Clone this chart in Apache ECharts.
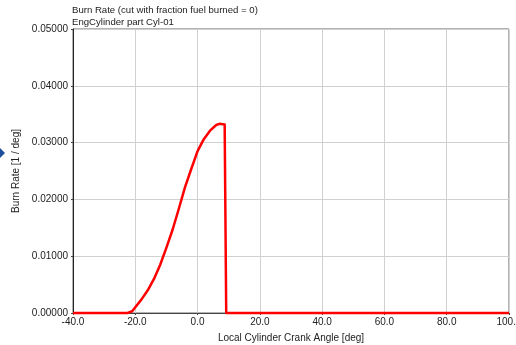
<!DOCTYPE html>
<html>
<head>
<meta charset="utf-8">
<script src="https://cdn.jsdelivr.net/npm/echarts@6/dist/echarts.min.js"></script>
<style>
  html, body { margin: 0; padding: 0; background: #fff; }
  #chart { width: 516px; height: 345px; }
</style>
</head>
<body>
<div id="chart"></div>
<script>
// Burn rate vs local crank angle for cylinder Cyl-01
const crankAngle = [-40, -22.5, -21, -20, -18, -16, -14, -12, -10, -8, -6, -4, -2, 0, 2, 4, 6, 7, 8.7, 9.2, 100];
const burnRate = [0, 0, 0.0003, 0.0010, 0.0024, 0.0040, 0.0060, 0.0085, 0.0115, 0.0147, 0.0184, 0.0222, 0.0254, 0.0285, 0.0306, 0.0321, 0.0331, 0.0333, 0.0332, 0, 0];

const titleLines = ['Burn Rate (cut with fraction fuel burned = 0)', 'EngCylinder part Cyl-01'];
const xAxisName = 'Local Cylinder Crank Angle [deg]';
const yAxisName = 'Burn Rate [1 / deg]';

const FONT = '"Liberation Sans", Arial, sans-serif';
const chart = echarts.init(document.getElementById('chart'), null, { renderer: 'canvas' });

chart.setOption({
  animation: false,
  backgroundColor: '#ffffff',
  title: {
    text: titleLines.join('\n'),
    left: 67,
    top: -1,
    textStyle: { fontFamily: FONT, fontSize: 9.6, fontWeight: 'normal', color: '#222', lineHeight: 12 }
  },
  grid: {
    left: 73, right: 7, top: 29, bottom: 32,
    outerBoundsMode: 'none',
    containLabel: false,
    show: true, borderColor: '#666', borderWidth: 1, backgroundColor: '#fff'
  },
  xAxis: {
    type: 'value',
    min: -40, max: 100, interval: 20,
    name: xAxisName,
    nameLocation: 'middle',
    nameGap: 20,
    nameTextStyle: { fontFamily: FONT, fontSize: 10, color: '#222' },
    axisLine: { show: true, onZero: false, lineStyle: { color: '#444', width: 1 } },
    axisTick: { show: true, length: 2, lineStyle: { color: '#444' } },
    axisLabel: {
      fontFamily: FONT, fontSize: 10, color: '#222', margin: 4,
      formatter: v => v.toFixed(1)
    },
    splitLine: { show: true, lineStyle: { color: '#d0d0d0', width: 1 } }
  },
  yAxis: {
    type: 'value',
    min: 0, max: 0.05, interval: 0.01,
    name: yAxisName,
    nameLocation: 'middle',
    nameGap: 49,
    nameTextStyle: { fontFamily: FONT, fontSize: 10, color: '#222' },
    axisLine: { show: true, onZero: false, lineStyle: { color: '#222', width: 1 } },
    axisTick: { show: true, length: 2, lineStyle: { color: '#444' } },
    axisLabel: {
      fontFamily: FONT, fontSize: 10, color: '#222', margin: 5,
      formatter: v => v.toFixed(5)
    },
    splitLine: { show: true, lineStyle: { color: '#d0d0d0', width: 1 } }
  },
  series: [{
    type: 'line',
    data: crankAngle.map((a, i) => [a, burnRate[i]]),
    showSymbol: false,
    smooth: false,
    clip: false,
    lineStyle: { color: '#ff0000', width: 2.5, join: 'round' }
  }],
  graphic: [{
    type: 'polygon',
    left: -5, top: 148,
    shape: { points: [[5, 0], [10, 5], [5, 10], [0, 5]] },
    style: { fill: '#1f4e9c' }
  }]
});
</script>
</body>
</html>
